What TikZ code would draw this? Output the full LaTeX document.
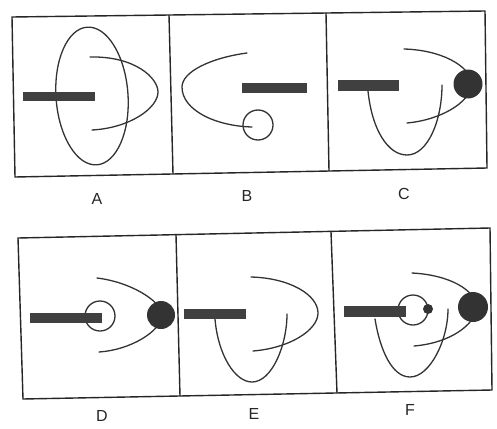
\documentclass[tikz,border=0pt]{standalone}
\usepackage{fontspec}
\setmainfont{Liberation Sans}
\begin{document}
\begin{tikzpicture}[x=1pt,y=-1pt,
  frame/.style={line width=1.4pt,draw=black!85},
  wire/.style={line width=1.3pt,draw=black!80,line cap=round},
  bar/.style={fill=black!75,draw=none},
  ball/.style={fill=black!80,draw=none},
  ring/.style={line width=1.3pt,draw=black!80,fill=none},
  lab/.style={font=\fontsize{16}{16}\selectfont,text=black!85,inner sep=0pt}]
\useasboundingbox (0,0) rectangle (497,428);
\fill[white] (0,0) rectangle (497,428);
% frames top row
\draw[frame] (12,17) -- (485,11) -- (487,168) -- (15,177) -- cycle;
\draw[frame] (169,15) -- (173,174);
\draw[frame] (326,13) -- (329,171);
% frames bottom row
\draw[frame] (18,238) -- (490,228) -- (492,390) -- (23,399) -- cycle;
\draw[frame] (176,235) -- (180,396);
\draw[frame] (331,232) -- (337,393);
% labels
\node[lab] (la) at (97,199) {A};
\node[lab] (lb) at (247,196) {B};
\node[lab] (lc) at (404,194) {C};
\node[lab] (ld) at (102,416) {D};
\node[lab] (le) at (254,414) {E};
\node[lab] (lf) at (410,410) {F};
% ---- A
\draw[ring,rotate around={4:(92,96)}] (92,96) ellipse [x radius=36, y radius=69];
\draw[wire] (90,57) .. controls (135,56) and (158,78) .. (158,92) .. controls (158,108) and (130,128) .. (92,130);
\fill[bar] (23,92) rectangle (95,101);
% ---- B
\draw[wire] (247,53) .. controls (210,58) and (182,72) .. (182,87) .. controls (182,110) and (215,126) .. (252,127);
\draw[ring] (258,125) circle [radius=15];
\fill[bar] (242,83) rectangle (307,93);
% ---- C
\draw[wire] (404,49) .. controls (440,50) and (470,65) .. (472,84) .. controls (470,103) and (440,120) .. (407,123);
\fill[ball] (468,84) circle [radius=14.5];
\draw[wire] (368,91) .. controls (372,130) and (388,155) .. (407,155) .. controls (428,155) and (442,120) .. (442,85);
\fill[bar] (338,80) rectangle (399,91);
% ---- D
\draw[wire] (97,278) .. controls (130,282) and (160,300) .. (163,315) .. controls (160,332) and (130,350) .. (99,352);
\fill[ball] (161,315) circle [radius=14];
\draw[ring] (100,316) circle [radius=15];
\fill[bar] (30,313) rectangle (102,323);
% ---- E
\draw[wire] (251,277) .. controls (290,278) and (318,295) .. (318,313) .. controls (318,330) and (290,348) .. (253,351);
\draw[wire] (215,319) .. controls (218,355) and (235,382) .. (252,382) .. controls (272,382) and (287,345) .. (287,314);
\fill[bar] (184,309) rectangle (246,319);
% ---- F
\draw[wire] (412,273) .. controls (450,275) and (475,290) .. (477,307) .. controls (475,325) and (450,343) .. (414,346);
\fill[ball] (473,307) circle [radius=15];
\draw[wire] (375,319) .. controls (380,350) and (392,377) .. (410,377) .. controls (430,377) and (448,340) .. (448,309);
\draw[ring] (413,310) circle [radius=15];
\fill[ball] (428,309) circle [radius=5];
\fill[bar] (344,306) rectangle (406,317);
\end{tikzpicture}
\end{document}
